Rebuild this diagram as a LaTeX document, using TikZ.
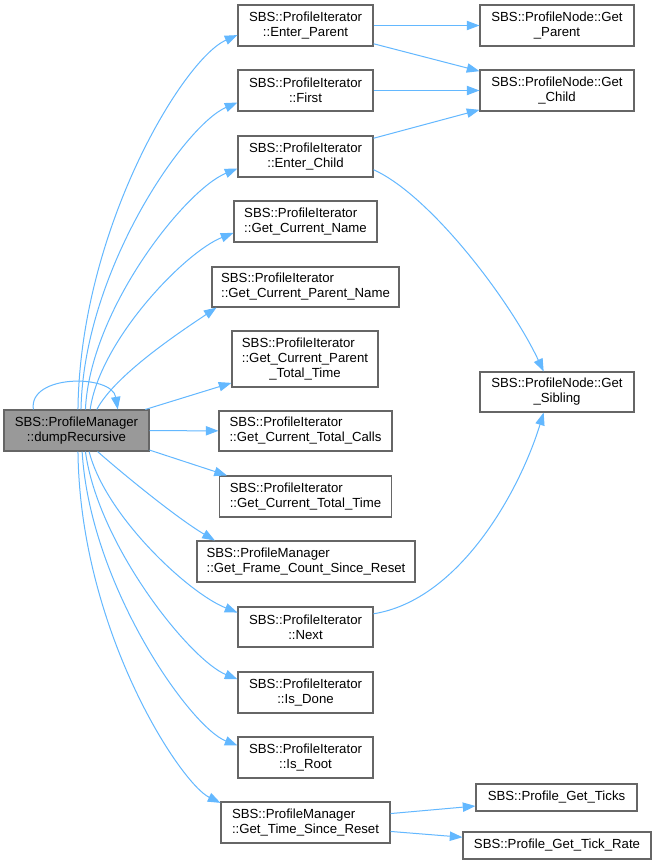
\documentclass[tikz,border=0pt]{standalone}
\usepackage{fontspec}
\setmainfont{Liberation Sans}
\usetikzlibrary{arrows.meta}
\definecolor{edgeblue}{HTML}{63B8FF}
\definecolor{boxgray}{HTML}{666666}
\definecolor{mainfill}{HTML}{999999}
\begin{document}
\begin{tikzpicture}[x=0.75pt,y=-0.75pt,
  fn/.style={draw=boxgray, line width=0.8pt, fill=white, inner sep=0pt, font=\fontsize{9.9}{11.25}\selectfont},
  sz/.style 2 args={minimum width=#1*0.75pt, minimum height=#2*0.75pt},
  cn/.style={draw=edgeblue, line width=0.75pt, -{Triangle[length=9.5pt,width=7pt]}},
]
\fill[white] (0,0) rectangle (657,865);
\useasboundingbox (0,0) rectangle (657,865);

\node[fn,sz={145}{41},fill=mainfill,align=center] (m) at (76.5,430.5) {SBS::ProfileManager\\::dumpRecursive};
\node[fn,sz={135}{41},align=center] (ep) at (305.5,25.5) {SBS::ProfileIterator\\::Enter\_Parent};
\node[fn,sz={135}{41},align=center] (fi) at (305.5,90.5) {SBS::ProfileIterator\\::First};
\node[fn,sz={135}{41},align=center] (ec) at (305.5,156.5) {SBS::ProfileIterator\\::Enter\_Child};
\node[fn,sz={143}{41},align=left] (gcn) at (305.5,221.5) {SBS::ProfileIterator\\::Get\_Current\_Name};
\node[fn,sz={187}{40},align=left] (gcpn) at (305.5,287) {SBS::ProfileIterator\\::Get\_Current\_Parent\_Name};
\node[fn,sz={146}{56},align=center] (gcptt) at (305,359) {\begin{tabular}[b]{@{}l@{}}SBS::ProfileIterator\\::Get\_Current\_Parent\end{tabular}\\\_Total\_Time};
\node[fn,sz={173}{40},align=left] (gctc) at (305.5,431) {SBS::ProfileIterator\\::Get\_Current\_Total\_Calls};
\node[fn,sz={172}{41},align=left] (gctt) at (305.5,496.5) {SBS::ProfileIterator\\::Get\_Current\_Total\_Time};
\node[fn,sz={218}{41},align=left] (fc) at (306,561.5) {SBS::ProfileManager\\::Get\_Frame\_Count\_Since\_Reset};
\node[fn,sz={135}{40},align=center] (nx) at (305.5,627) {SBS::ProfileIterator\\::Next};
\node[fn,sz={135}{41},align=center] (idn) at (305.5,692.5) {SBS::ProfileIterator\\::Is\_Done};
\node[fn,sz={135}{41},align=center] (irt) at (305.5,757.5) {SBS::ProfileIterator\\::Is\_Root};
\node[fn,sz={169}{41},align=left] (tsr) at (305.5,822.5) {SBS::ProfileManager\\::Get\_Time\_Since\_Reset};
\node[fn,sz={154}{41},align=center] (gp) at (557,25.5) {SBS::ProfileNode::Get\\\_Parent};
\node[fn,sz={154}{41},align=center] (gch) at (557,90.5) {SBS::ProfileNode::Get\\\_Child};
\node[fn,sz={154}{40},align=center] (gs) at (557,392) {SBS::ProfileNode::Get\\\_Sibling};
\node[fn,sz={161}{27}] (pgt) at (556.5,797.5) {SBS::Profile\_Get\_Ticks};
\node[fn,sz={188}{27}] (pgtr) at (557,845.5) {SBS::Profile\_Get\_Tick\_Rate};

% self loop
\draw[cn] (m.154) .. controls (28,374) and (112,374) .. (m.27);
% upper fan
\draw[cn] (m.86) .. controls (80,230) and (183,59) .. (ep.188);
\draw[cn] (m.78) .. controls (84,270) and (185,125) .. (fi.190);
\draw[cn] (m.67) .. controls (90,310) and (185,190) .. (ec.190);
\draw[cn] (m.57) .. controls (100,340) and (185,252) .. (gcn.189);
\draw[cn] (m.46) .. controls (115,375) and (180,332) .. (gcpn.193);
\draw[cn] (m.17) -- (gcptt.198);
\draw[cn] (m) -- (gctc);
\draw[cn] (m.-15) -- (gctt.165);
% lower fan
\draw[cn] (m.-45) .. controls (130,480) and (180,520) .. (fc.167);
\draw[cn] (m.-59) .. controls (105,515) and (188,593) .. (nx.168);
\draw[cn] (m.-67) .. controls (98,545) and (190,660) .. (idn.169);
\draw[cn] (m.-75) .. controls (90,585) and (190,727) .. (irt.170);
\draw[cn] (m.-86) .. controls (80,630) and (180,783) .. (tsr.167);
% right side
\draw[cn] (ep) -- (gp);
\draw[cn] (ep.-15) -- (gch.166);
\draw[cn] (fi) -- (gch);
\draw[cn] (ec.15) -- (gch.194);
\draw[cn] (ec.-11) .. controls (430,195) and (510,300) .. (gs.123);
\draw[cn] (nx.11) .. controls (460,600) and (520,490) .. (gs.-123);
\draw[cn] (tsr.6) -- (pgt.186);
\draw[cn] (tsr.-6) -- (pgtr.175);
\end{tikzpicture}
\end{document}
